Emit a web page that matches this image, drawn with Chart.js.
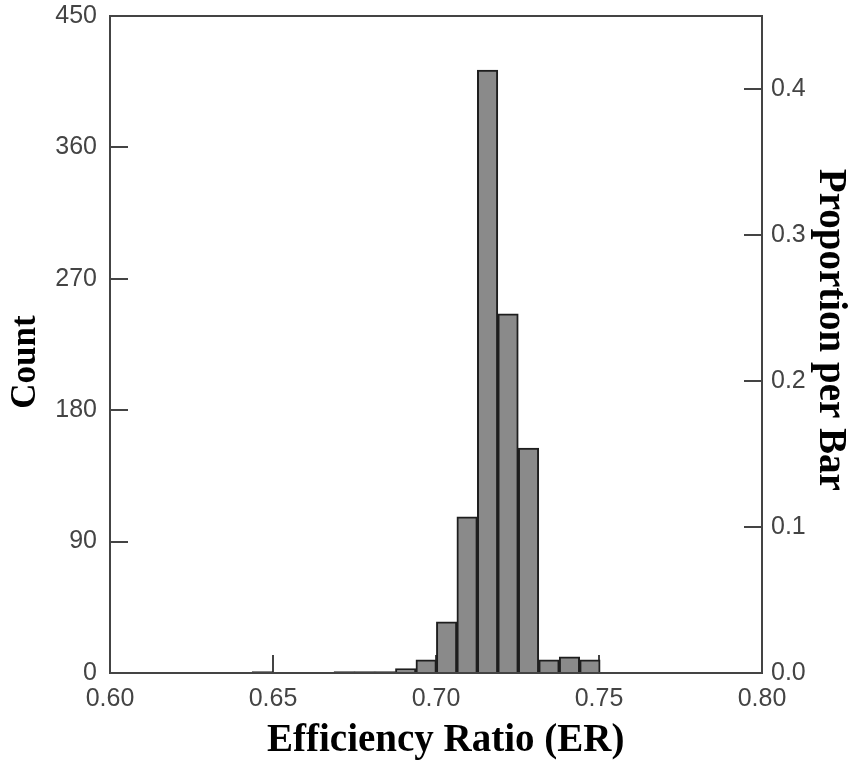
<!DOCTYPE html>
<html>
<head>
<meta charset="utf-8">
<script src="https://cdn.jsdelivr.net/npm/chart.js@4/dist/chart.umd.min.js"></script>
<style>
html,body{margin:0;padding:0;background:#fff;}
canvas{display:block;}
</style>
</head>
<body>
<canvas id="hist" width="854" height="765"></canvas>
<script>
// bin centres (bin width ~0.00628) and counts
const binCenters = [0.64674, 0.65302, 0.65930, 0.66558, 0.67186, 0.67814, 0.68442, 0.69070,
  0.69698, 0.70326, 0.70954, 0.71582, 0.72210, 0.72838, 0.73466, 0.74094, 0.74722]
const counts = [1, 0, 0, 0, 1, 1, 1, 3, 9, 35, 107, 413, 246, 154, 9, 11, 9]
const totalN = 1000

const countTicks = [0, 90, 180, 270, 360, 450]
const propTicks = [0, 0.1, 0.2, 0.3, 0.4]
const xTicks = [0.60, 0.65, 0.70, 0.75, 0.80]

const tickFont = {family: "'Liberation Sans', Arial, sans-serif", size: 25}
const titleFont = {family: "'Liberation Serif', 'Times New Roman', serif", weight: 'bold', size: 39, lineHeight: 1}

// box round the plot area (top edge has no axis of its own)
const frame = {
  id: 'frame',
  afterDatasetsDraw(chart){
    const a = chart.chartArea
    const c = chart.ctx
    c.save()
    c.strokeStyle = '#444'
    c.lineWidth = 2
    c.strokeRect(a.left, a.top, a.right - a.left, a.bottom - a.top)
    c.restore()
  }
}

function fixWidth(w){
  return function(s){
    s.width = w
    s.paddingTop = 0
    s.paddingBottom = 0
  }
}

new Chart(document.getElementById('hist'), {
  type: 'bar',
  data: {
    datasets: [{
      data: binCenters.map((x, i) => ({x: x, y: counts[i]})),
      backgroundColor: '#8a8a8a',
      borderColor: '#1e1e1e',
      borderWidth: 2,
      barPercentage: 1,
      categoryPercentage: 1,
      yAxisID: 'y'
    }]
  },
  options: {
    responsive: false,
    animation: false,
    layout: {padding: {top: 16, left: 0, right: 0, bottom: 0}},
    plugins: {legend: {display: false}, tooltip: {enabled: false}},
    scales: {
      x: {
        type: 'linear',
        min: 0.6, max: 0.8,
        offset: false,
        afterFit(s){ s.height = 92; s.paddingLeft = 0; s.paddingRight = 0 },
        afterBuildTicks(s){ s.ticks = xTicks.map(v => ({value: v})) },
        grid: {offset: false, drawOnChartArea: false, tickLength: -18, color: '#444', lineWidth: 2},
        border: {color: '#444', width: 2},
        ticks: {font: tickFont, color: '#444', padding: 29, maxRotation: 0,
          callback: v => v.toFixed(2)},
        title: {display: true, text: '  Efficiency Ratio (ER)', color: '#000', font: titleFont,
          padding: {top: 0, bottom: 5}}
      },
      y: {
        position: 'left',
        min: 0, max: 450,
        afterFit: fixWidth(110),
        afterBuildTicks(s){ s.ticks = countTicks.map(v => ({value: v})) },
        grid: {drawOnChartArea: false, tickLength: -18, color: '#444', lineWidth: 2},
        border: {color: '#444', width: 2},
        ticks: {font: tickFont, color: '#444', padding: 31},
        title: {display: true, text: 'Count    ', color: '#000',
          font: Object.assign({}, titleFont, {size: 35}), padding: {top: 8, bottom: 0}}
      },
      y1: {
        position: 'right',
        min: 0, max: totalN * 0.45 / 1000,
        afterFit: fixWidth(92),
        afterBuildTicks(s){ s.ticks = propTicks.map(v => ({value: v})) },
        grid: {drawOnChartArea: false, tickLength: -18, color: '#444', lineWidth: 2},
        border: {color: '#444', width: 2},
        ticks: {font: tickFont, color: '#444', padding: 27, callback: v => v.toFixed(1)},
        title: {display: true, text: 'Proportion per Bar   ', color: '#000', font: titleFont,
          padding: {top: 4, bottom: 0}}
      }
    }
  },
  plugins: [frame]
})
</script>
</body>
</html>
